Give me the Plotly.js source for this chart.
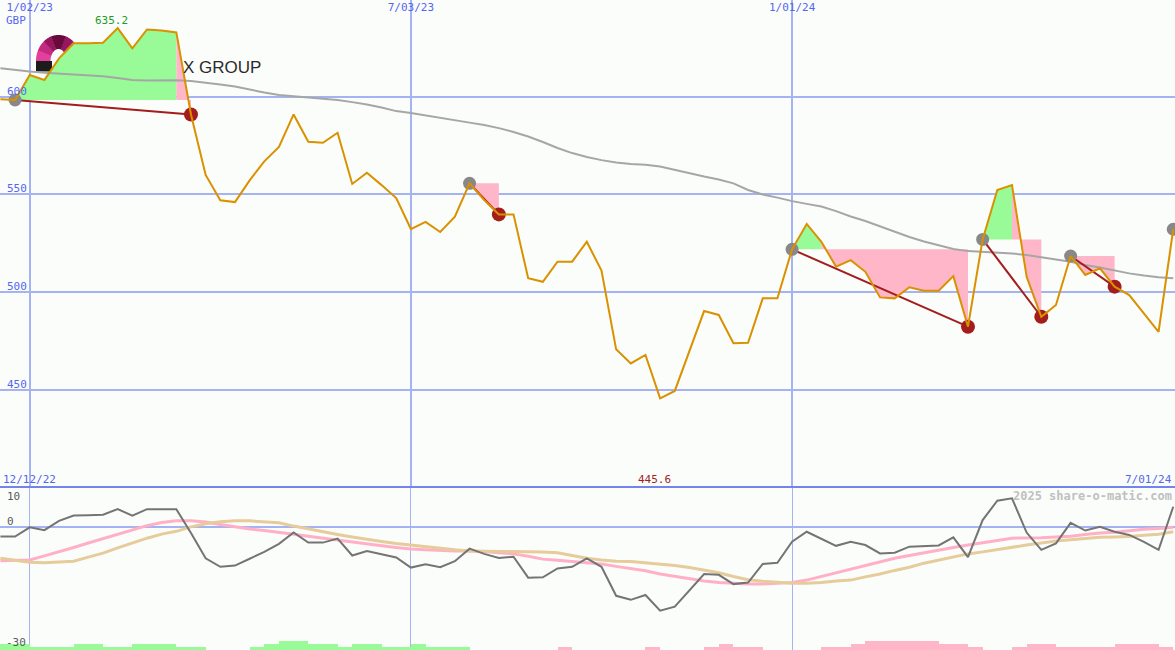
<!DOCTYPE html>
<html><head><meta charset="utf-8">
<script src="https://cdn.plot.ly/plotly-3.0.1.min.js"></script>
<style>html,body{margin:0;padding:0;background:#fbfdfb}#chart{width:1175px;height:650px}</style>
</head><body><div id="chart"></div>
<script>
// Weekly points, index 0 = 19 Dec 2022 ... index 80 = 1 Jul 2024
const price = [598.8,598.4,611.2,608.6,619.7,627.4,627.5,627.7,635.2,624.8,
  634.5,634.0,633.0,591.0,560.0,547.0,546.1,557.2,567.0,574.4,
  591.0,577.0,576.5,581.6,555.4,561.1,554.8,548.2,532.3,536.0,
  530.8,538.6,555.7,547.2,539.8,539.8,507.1,505.3,515.6,515.6,
  525.8,511.0,470.7,463.5,467.8,445.6,449.4,469.9,490.3,488.3,
  473.8,474.1,496.8,496.8,521.9,534.9,525.8,513.0,516.4,510.4,
  497.3,496.8,502.5,500.7,500.7,508.2,482.3,527.0,552.3,554.8,
  507.9,487.4,493.4,518.5,508.8,512.2,502.8,498.5,489.3,479.7,532.2];
const movingAvg = [614.6,613.7,613.0,612.4,611.9,611.5,611.0,610.5,609.6,608.6,
  608.4,608.5,608.5,608.1,607.3,606.3,605.3,603.7,602.2,600.9,
  600.2,599.6,599.1,598.4,597.3,596.1,594.5,592.7,591.7,590.4,
  589.1,588.1,586.8,585.6,584.0,582.0,579.7,576.9,573.8,571.2,
  569.2,567.6,566.4,565.6,565.2,564.3,562.5,560.7,559.2,557.7,
  555.7,552.3,550.0,548.4,546.6,545.2,543.8,541.5,538.7,536.4,
  533.6,530.8,528.2,525.9,524.1,522.1,521.0,520.7,520.3,519.8,
  519.0,518.0,516.7,515.6,513.9,512.6,511.1,509.6,508.5,507.6,507.1];
const oscFast = [-2.3,-2.3,0.0,-0.7,1.6,2.9,3.0,3.1,4.5,2.9,
  4.5,4.5,4.5,-1.4,-7.7,-9.8,-9.5,-7.8,-6.1,-4.1,
  -1.3,-3.8,-3.8,-2.8,-7.0,-5.9,-6.7,-7.5,-10.0,-9.2,
  -9.9,-8.4,-5.3,-6.6,-7.6,-7.3,-12.5,-12.4,-10.2,-9.8,
  -7.7,-9.8,-17.0,-18.0,-16.8,-20.7,-19.7,-15.6,-11.6,-11.8,
  -14.1,-13.7,-9.1,-8.8,-3.6,-1.1,-2.9,-4.6,-3.6,-4.4,
  -6.5,-6.3,-4.8,-4.6,-4.5,-2.5,-7.4,1.8,6.6,7.2,
  -1.3,-5.6,-4.0,1.1,-0.8,0.1,-1.1,-1.9,-3.6,-5.6,5.1];
const oscMid = [-8.3,-8.2,-8.1,-7.1,-6.1,-5.0,-3.9,-2.8,-1.7,-0.7,
  0.4,1.2,1.6,1.6,1.3,0.7,0.1,-0.4,-0.8,-1.2,
  -1.7,-2.2,-2.7,-3.2,-3.6,-4.1,-4.6,-5.0,-5.4,-5.6,
  -5.8,-5.9,-5.9,-6.0,-6.3,-6.6,-7.2,-7.9,-8.2,-8.5,
  -8.8,-9.1,-9.7,-10.2,-10.8,-11.6,-12.2,-12.8,-13.3,-13.7,
  -13.9,-14.1,-14.1,-13.9,-13.7,-13.1,-12.2,-11.2,-10.3,-9.5,
  -8.6,-7.7,-7.0,-6.3,-5.6,-5.0,-4.4,-3.9,-3.3,-2.7,
  -2.7,-2.6,-2.4,-2.2,-1.8,-1.4,-1.2,-0.8,-0.5,-0.3,0.0];
const oscSlow = [-7.7,-8.2,-8.7,-8.8,-8.6,-8.4,-7.4,-6.4,-5.1,-3.9,
  -2.7,-1.7,-1.0,0.1,0.9,1.4,1.6,1.6,1.4,1.1,
  0.3,-0.4,-1.2,-1.8,-2.4,-3.0,-3.5,-4.0,-4.4,-4.9,
  -5.3,-5.6,-5.9,-6.0,-6.0,-6.0,-6.0,-6.1,-6.3,-7.0,
  -7.7,-8.1,-8.4,-8.5,-8.8,-9.1,-9.5,-10.0,-10.6,-11.3,
  -12.2,-13.0,-13.4,-13.7,-13.9,-13.9,-13.7,-13.3,-13.1,-12.3,
  -11.6,-10.7,-9.9,-8.9,-8.1,-7.4,-6.6,-6.1,-5.5,-4.9,
  -4.4,-3.9,-3.4,-3.1,-2.8,-2.5,-2.4,-2.3,-2.0,-1.7,-1.1];
// step bars at the foot of the lower panel: + green, - pink (one per week interval)
const volSteps = [2,2,1,1,1,2,2,1,1,2, 2,2,1,1,0,0,0,1,2,3,
  3,2,2,1,2,2,1,1,2,1, 1,1,0,0,0,0,0,0,-1,0,
  0,0,0,0,-1,0,0,0,-1,-2, -1,-1,0,0,0,0,-1,-1,-2,-3,
  -3,-3,-3,-3,-2,-2,-1,0,0,-1, -2,-2,-1,-1,-1,-1,-2,-2,-2,-1];
const trendStart = [1,32,54,67,73];
const trendEnd = [13,34,66,71,76];
const openTrend = [80];
const xTickIdx = [2,28,54];
const xTickText = ['1/02/23','7/03/23','1/01/24'];
const yTicks = [450,500,550,600];
const maxLabel = '635.2', maxIdx = 8;
const minLabel = '445.6', minIdx = 45;

const idx = price.map((_, i) => i);
const BLUE = '#5566ee', GRID = '#a6b3f3';
const MONO = 'DejaVu Sans Mono, monospace';

function poly(a, b, L, color) {
  const xs = [], ys = [];
  for (let i = a; i <= b; i++) { xs.push(i); ys.push(price[i]); }
  xs.push(b, a); ys.push(L, L);
  return {x: xs, y: ys, type: 'scatter', mode: 'none', fill: 'toself', fillcolor: color,
          hoverinfo: 'skip', showlegend: false, xaxis: 'x', yaxis: 'y'};
}
const traces = [];
trendStart.forEach((s, n) => {
  const e = trendEnd[n], L = price[s];
  let k = s;
  while (k < e && price[k + 1] > L) k++;
  if (k > s) traces.push(poly(s, k, L, '#98fb98'));
  traces.push(poly(k, e, L, '#ffb6c8'));
});
traces.push({x: idx, y: movingAvg, type: 'scatter', mode: 'lines',
  line: {color: '#a6a6a6', width: 2}, hoverinfo: 'skip', showlegend: false});
const tx = [], ty = [];
trendStart.forEach((s, n) => { tx.push(s, trendEnd[n], null); ty.push(price[s], price[trendEnd[n]], null); });
traces.push({x: tx, y: ty, type: 'scatter', mode: 'lines', line: {color: '#a31d1d', width: 2},
  hoverinfo: 'skip', showlegend: false});
const gs = trendStart.concat(openTrend);
traces.push({x: gs, y: gs.map(i => price[i]), type: 'scatter', mode: 'markers',
  marker: {color: '#888888', size: 13}, hoverinfo: 'skip', showlegend: false});
traces.push({x: trendEnd, y: trendEnd.map(i => price[i]), type: 'scatter', mode: 'markers',
  marker: {color: '#a31d1d', size: 14}, hoverinfo: 'skip', showlegend: false});
traces.push({x: idx, y: price, type: 'scatter', mode: 'lines',
  line: {color: '#da9100', width: 2}, hoverinfo: 'skip', showlegend: false});

// lower panel
traces.push({x: idx, y: oscMid, xaxis: 'x2', yaxis: 'y2', type: 'scatter', mode: 'lines',
  line: {color: '#ffb0c6', width: 3}, hoverinfo: 'skip', showlegend: false});
traces.push({x: idx, y: oscSlow, xaxis: 'x2', yaxis: 'y2', type: 'scatter', mode: 'lines',
  line: {color: '#e6cb9b', width: 3}, hoverinfo: 'skip', showlegend: false});
traces.push({x: idx, y: oscFast, xaxis: 'x2', yaxis: 'y2', type: 'scatter', mode: 'lines',
  line: {color: '#747474', width: 2}, hoverinfo: 'skip', showlegend: false});
traces.push({x: volSteps.map((_, i) => i), y: volSteps.map(v => Math.abs(v)),
  marker: {color: volSteps.map(v => v >= 0 ? '#98fb98' : '#ffb6c8'), line: {width: 0}},
  type: 'bar', width: 1, offset: 0, xaxis: 'x2', yaxis: 'y3', hoverinfo: 'skip', showlegend: false});

const XR = [-0.0273, 80.12];
const SPLIT = 163 / 650;

// logo (half ring with vertical shading + dark bar), in paper coordinates
function P(px, py) { return (px / 1175).toFixed(5) + ',' + (1 - py / 650).toFixed(5); }
function arcSlice(cx, cy, rox, roy, rix, riy, a0, a1) {
  let d = '';
  const N = 16;
  for (let j = 0; j <= N; j++) { const a = a0 + (a1 - a0) * j / N; d += (j ? 'L' : 'M') + P(cx - rox * Math.cos(a), cy - roy * Math.sin(a)); }
  for (let j = N; j >= 0; j--) { const a = a0 + (a1 - a0) * j / N; d += 'L' + P(cx - rix * Math.cos(a), cy - riy * Math.sin(a)); }
  return d + 'Z';
}
const D = Math.PI / 180;
const logoBands = [
  [0, 25, '#e2409c'], [155, 180, '#e2409c'],
  [25, 50, '#c42a80'], [130, 155, '#c42a80'],
  [50, 72, '#961660'], [108, 130, '#961660'],
  [72, 108, '#6a0a3c']
];
const shapes = logoBands.map(b => ({type: 'path', xref: 'paper', yref: 'paper', layer: 'between',
  path: arcSlice(58.5, 61, 22.5, 26, 8, 12, b[0] * D - 0.01, b[1] * D + 0.01), fillcolor: b[2], line: {width: 0}}));
shapes.push(
  {type: 'rect', xref: 'paper', yref: 'paper', layer: 'between', x0: 36 / 1175, x1: 52 / 1175,
   y0: 1 - 71.5 / 650, y1: 1 - 61 / 650, fillcolor: '#1c1c1c', line: {width: 0}},
  {type: 'line', xref: 'paper', yref: 'paper', x0: 0, x1: 1, y0: SPLIT, y1: SPLIT,
   line: {color: '#7484ec', width: 2}, layer: 'above'}
);

const ann = (o) => Object.assign({showarrow: false, font: {family: MONO, size: 11, color: BLUE}}, o);
const annotations = [
  ann({text: 'GBP', xref: 'paper', yref: 'paper', x: 4 / 1175, y: 1 - 21 / 650, xanchor: 'left', yanchor: 'middle'}),
  ann({text: maxLabel, xref: 'x', yref: 'paper', x: maxIdx, xshift: -6, y: 1 - 21 / 650, yanchor: 'middle',
       font: {family: MONO, size: 11, color: '#249a24'}}),
  ann({text: minLabel, xref: 'x', yref: 'paper', x: minIdx, xshift: -6, y: 1 - 479 / 650, yanchor: 'middle',
       font: {family: MONO, size: 11, color: '#a31d1d'}}),
  ann({text: '12/12/22', xref: 'paper', yref: 'paper', x: 1 / 1175, y: 1 - 479 / 650, xanchor: 'left', yanchor: 'middle'}),
  ann({text: '7/01/24', xref: 'paper', yref: 'paper', x: 1174 / 1175, y: 1 - 479 / 650, xanchor: 'right', yanchor: 'middle'}),
  ann({text: '2025 share-o-matic.com', xref: 'paper', yref: 'paper', x: 1174 / 1175, y: 1 - 496 / 650,
       xanchor: 'right', yanchor: 'middle', font: {family: MONO, size: 12, color: '#c0c0c0', weight: 'bold'}}),
  ann({text: '10', xref: 'paper', yref: 'paper', x: 5 / 1175, y: 1 - 496 / 650, xanchor: 'left', yanchor: 'middle',
       font: {family: MONO, size: 11, color: '#5a5a5a'}}),
  ann({text: '0', xref: 'paper', yref: 'paper', x: 5 / 1175, y: 1 - 521 / 650, xanchor: 'left', yanchor: 'middle',
       font: {family: MONO, size: 11, color: '#5a5a5a'}}),
  ann({text: '-30', xref: 'paper', yref: 'paper', x: 4 / 1175, y: 1 - 642 / 650, xanchor: 'left', yanchor: 'middle',
       font: {family: MONO, size: 11, color: '#5a5a5a'}}),
  {text: 'X GROUP', xref: 'paper', yref: 'paper', x: 181 / 1175, y: 1 - 68 / 650, xanchor: 'left', yanchor: 'middle',
   showarrow: false, font: {family: 'Liberation Sans, Arial, sans-serif', size: 17, color: '#2a2a2a'}}
];

const layout = {
  width: 1175, height: 650, margin: {l: 0, r: 0, t: 0, b: 0},
  paper_bgcolor: '#fbfdfb', plot_bgcolor: '#fbfdfb', showlegend: false,
  xaxis: {domain: [0, 1], range: XR, anchor: 'y', side: 'top', tickvals: xTickIdx, ticktext: xTickText,
    ticklabelposition: 'inside', ticks: '', showgrid: true, gridcolor: GRID, gridwidth: 2,
    zeroline: false, showline: false, tickfont: {family: MONO, size: 11, color: BLUE}},
  yaxis: {domain: [SPLIT, 1], range: [400.2, 649.6], anchor: 'x', tickvals: yTicks,
    ticklabelposition: 'inside', ticks: '', ticklabelshift: -6, ticklabelstandoff: 4,
    showgrid: true, gridcolor: GRID, gridwidth: 2, zeroline: false, showline: false,
    tickfont: {family: MONO, size: 11, color: BLUE}},
  xaxis2: {domain: [0, 1], range: XR, anchor: 'y2', tickvals: xTickIdx, showticklabels: false, ticks: '',
    showgrid: true, gridcolor: GRID, gridwidth: 1, zeroline: false, showline: false},
  yaxis2: {domain: [0, SPLIT], range: [-30.45, 10], anchor: 'x2', tickvals: [0], showticklabels: false,
    ticks: '', showgrid: true, gridcolor: GRID, gridwidth: 2, zeroline: false, showline: false},
  yaxis3: {overlaying: 'y2', range: [0, 54.33], visible: false, showgrid: false, zeroline: false},
  bargap: 0, shapes: shapes, annotations: annotations
};
Plotly.newPlot('chart', traces, layout, {staticPlot: true, displayModeBar: false});
</script>
</body></html>
